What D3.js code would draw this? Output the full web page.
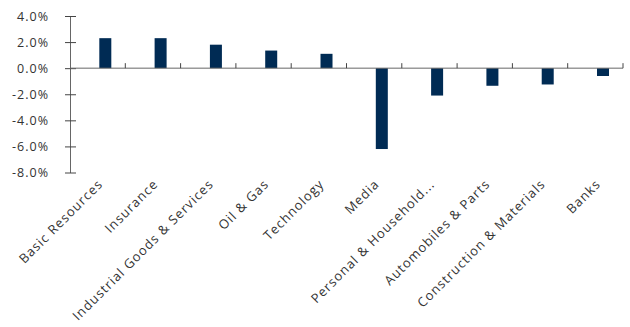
<!DOCTYPE html>
<html>
<head>
<meta charset="utf-8">
<script src="https://cdn.jsdelivr.net/npm/d3@7"></script>
<style>
  body { margin: 0; background: #fff; }
  text { font-family: "Open Sans", sans-serif; fill: #222; }
</style>
</head>
<body>
<div id="chart"></div>
<script>
var sectors = ['Basic Resources', 'Insurance', 'Industrial Goods & Services', 'Oil & Gas',
    'Technology', 'Media', 'Personal & Household...', 'Automobiles & Parts',
    'Construction & Materials', 'Banks'];
var changes = [0.023, 0.023, 0.018, 0.0135, 0.011, -0.062, -0.021, -0.0135, -0.0125, -0.006];
var yTicks = [0.04, 0.02, 0, -0.02, -0.04, -0.06, -0.08];

var width = 630, height = 327;
var margin = { top: 16, left: 70, right: 7, bottom: 155 };

var svg = d3.select('#chart').append('svg')
    .attr('width', width)
    .attr('height', height);

var x = d3.scaleBand()
    .domain(sectors)
    .range([margin.left, width - margin.right]);

var y = d3.scaleLinear()
    .domain([-0.08, 0.04])
    .range([height - margin.bottom + 0.5, margin.top]);

var barWidth = 12;
var pct = d3.format('.1%');

// bars sit a bit right of the band centre, like the original
svg.selectAll('.bar')
    .data(sectors)
    .enter().append('rect')
    .attr('class', 'bar')
    .attr('x', function (d) { return x(d) + x.bandwidth() * 0.53; })
    .attr('width', barWidth)
    .attr('y', function (d, i) { return y(Math.max(0, changes[i])); })
    .attr('height', function (d, i) { return Math.abs(y(changes[i]) - y(0)); })
    .attr('fill', '#002b54');

// y axis
var yAxis = d3.axisLeft(y)
    .tickValues(yTicks)
    .tickFormat(function (d) { return pct(d).replace('\u2212', '-'); })
    .tickSizeInner(5)
    .tickSizeOuter(0)
    .tickPadding(16);

var yg = svg.append('g')
    .attr('transform', 'translate(' + margin.left + ',0)')
    .call(yAxis);
yg.selectAll('.tick line').attr('x2', 6).attr('x1', -5);
yg.select('.domain').attr('stroke', '#666');
yg.selectAll('.tick line').attr('stroke', '#444');
yg.selectAll('text')
    .style('font-size', '12.5px')
    .style('letter-spacing', '1px')
    .style('fill', '#333');

// x axis along zero with separators between categories
var xg = svg.append('g').attr('class', 'x-axis');
xg.append('line')
    .attr('x1', margin.left).attr('x2', width - margin.right)
    .attr('y1', y(0)).attr('y2', y(0))
    .attr('stroke', '#666');

var seps = sectors.map(function (d) { return x(d) + x.bandwidth(); });
xg.selectAll('.sep')
    .data(seps)
    .enter().append('line')
    .attr('class', 'sep')
    .attr('x1', function (d) { return d; }).attr('x2', function (d) { return d; })
    .attr('y1', y(0)).attr('y2', y(0) - 5)
    .attr('stroke', '#444');

svg.selectAll('.xlabel')
    .data(sectors)
    .enter().append('text')
    .attr('class', 'xlabel')
    .attr('text-anchor', 'end')
    .attr('transform', function (d) {
        return 'translate(' + (x(d) + x.bandwidth() / 2 + 6) + ',' + 185 + ') rotate(-45)';
    })
    .style('font-size', '13px')
    .style('letter-spacing', '1px')
    .style('fill', '#333')
    .text(function (d) { return d; });
</script>
</body>
</html>
